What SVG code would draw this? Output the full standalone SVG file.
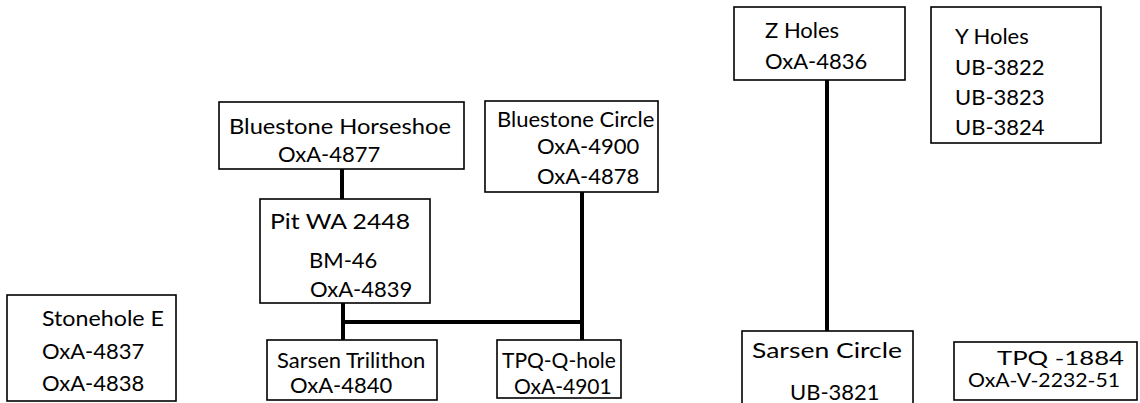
<svg xmlns="http://www.w3.org/2000/svg" width="1140" height="403" viewBox="0 0 1140 403">
<style>
.box{fill:#fff;stroke:#000;stroke-width:1.6}
.t{font-family:Lato,"Open Sans","Liberation Sans",sans-serif;font-size:22px;fill:#000}
.m{font-size:21px}
.s{font-size:19px}
.c{fill:none;stroke:#000;stroke-width:4}
</style>
<rect width="1140" height="403" fill="#fff"/>
<g id="connectors">
<line class="c" x1="342" y1="169" x2="342" y2="199"/>
<line class="c" x1="343" y1="303" x2="343" y2="340"/>
<line class="c" x1="343" y1="322" x2="582" y2="322"/>
<line class="c" x1="582" y1="192" x2="582" y2="340"/>
<line class="c" x1="827" y1="80" x2="827" y2="331"/>
</g>
<g id="z-holes">
<rect class="box" x="734" y="7" width="171" height="73"/>
<text class="t" x="765" y="38">Z Holes</text>
<text class="t" x="765" y="69">OxA-4836</text>
</g>
<g id="y-holes">
<rect class="box" x="931" y="7" width="170" height="136"/>
<text class="t" x="955" y="44">Y Holes</text>
<text class="t" x="955" y="75">UB-3822</text>
<text class="t" x="955" y="105">UB-3823</text>
<text class="t" x="955" y="135">UB-3824</text>
</g>
<g id="bluestone-horseshoe">
<rect class="box" x="219" y="102" width="245" height="67"/>
<text class="t" x="229" y="134" textLength="222" lengthAdjust="spacingAndGlyphs">Bluestone Horseshoe</text>
<text class="t" x="278" y="162">OxA-4877</text>
</g>
<g id="bluestone-circle">
<rect class="box" x="485" y="101" width="173" height="91"/>
<text class="t" x="497" y="127">Bluestone Circle</text>
<text class="t" x="537" y="154">OxA-4900</text>
<text class="t" x="537" y="184">OxA-4878</text>
</g>
<g id="pit-wa-2448">
<rect class="box" x="260" y="199" width="170" height="104"/>
<text class="t" x="270" y="229" textLength="140" lengthAdjust="spacingAndGlyphs">Pit WA 2448</text>
<text class="t" x="309" y="268">BM-46</text>
<text class="t" x="310" y="297">OxA-4839</text>
</g>
<g id="stonehole-e">
<rect class="box" x="7" y="295" width="169" height="106"/>
<text class="t" x="42" y="326" textLength="122" lengthAdjust="spacingAndGlyphs">Stonehole E</text>
<text class="t" x="42" y="359">OxA-4837</text>
<text class="t" x="42" y="391">OxA-4838</text>
</g>
<g id="sarsen-trilithon">
<rect class="box" x="267" y="340" width="170" height="60"/>
<text class="t" x="277" y="368">Sarsen Trilithon</text>
<text class="t" x="290" y="393">OxA-4840</text>
</g>
<g id="tpq-q-hole">
<rect class="box" x="497" y="340" width="124" height="58"/>
<text class="t m" x="502" y="368">TPQ-Q-hole</text>
<text class="t m" x="514" y="394">OxA-4901</text>
</g>
<g id="sarsen-circle">
<rect class="box" x="742" y="331" width="171" height="75"/>
<text class="t" x="752" y="358" textLength="150" lengthAdjust="spacingAndGlyphs">Sarsen Circle</text>
<text class="t" x="790" y="400">UB-3821</text>
</g>
<g id="tpq-1884">
<rect class="box" x="954" y="342" width="183" height="58"/>
<text class="t s" x="997" y="365" textLength="127" lengthAdjust="spacingAndGlyphs">TPQ -1884</text>
<text class="t s" x="968" y="387" textLength="152" lengthAdjust="spacingAndGlyphs">OxA-V-2232-51</text>
</g>
</svg>
